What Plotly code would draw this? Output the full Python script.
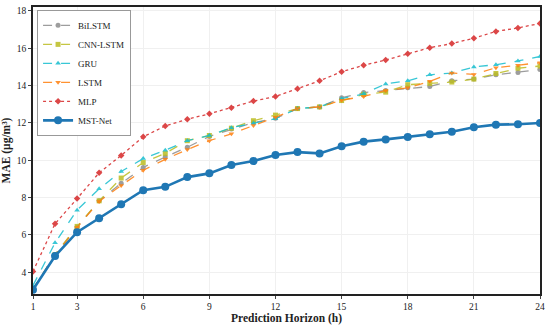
import plotly.graph_objects as go

horizon = list(range(1, 25))
bilstm = [3.1, 4.95, 6.42, 7.83, 8.77, 9.62, 10.18, 10.7, 11.28, 11.67, 12.02, 12.25, 12.77, 12.86, 13.35, 13.63, 13.74, 13.88, 13.95, 14.26, 14.35, 14.58, 14.7, 14.86]
cnn_lstm = [3.1, 4.95, 6.46, 7.83, 9.05, 9.88, 10.37, 11.05, 11.33, 11.72, 12.12, 12.42, 12.77, 12.86, 13.2, 13.53, 13.65, 14.05, 14.12, 14.19, 14.35, 14.65, 14.93, 15.05]
gru = [3.3, 5.58, 7.33, 8.47, 9.4, 10.09, 10.54, 11.05, 11.33, 11.75, 11.98, 12.23, 12.77, 12.86, 13.3, 13.56, 14.09, 14.26, 14.58, 14.67, 15.0, 15.12, 15.32, 15.56]
lstm = [3.1, 4.9, 6.4, 7.8, 8.65, 9.47, 10.05, 10.58, 11.05, 11.42, 11.86, 12.3, 12.77, 12.86, 13.22, 13.42, 13.74, 13.88, 14.23, 14.68, 14.6, 14.96, 15.09, 15.23]
mlp = [4.05, 6.6, 7.95, 9.33, 10.26, 11.26, 11.84, 12.2, 12.49, 12.82, 13.17, 13.42, 13.83, 14.26, 14.74, 15.09, 15.37, 15.7, 16.03, 16.25, 16.54, 16.9, 17.09, 17.33]
mst_net = [3.07, 4.87, 6.15, 6.9, 7.65, 8.4, 8.58, 9.1, 9.3, 9.75, 9.96, 10.28, 10.44, 10.37, 10.75, 11.0, 11.12, 11.25, 11.39, 11.53, 11.77, 11.91, 11.93, 12.0]

x_ticks = [1, 3, 6, 9, 12, 15, 18, 21, 24]
y_ticks = [4, 6, 8, 10, 12, 14, 16, 18]

series = [
    ("BiLSTM", bilstm, "#8c8c8c", "circle", "dash", 1.3, 5),
    ("CNN-LSTM", cnn_lstm, "#bcbd22", "square", "dash", 1.3, 5),
    ("GRU", gru, "#17becf", "triangle-up", "dash", 1.3, 5),
    ("LSTM", lstm, "#ff7f0e", "triangle-down", "dash", 1.3, 5),
    ("MLP", mlp, "#d62728", "diamond", "dot", 1.3, 5),
    ("MST-Net", mst_net, "#1f77b4", "circle", "solid", 2.6, 8),
]

fig = go.Figure()
for name, vals, color, sym, dash, lw, ms in series:
    fig.add_trace(go.Scatter(
        x=horizon, y=vals, name=name, mode="lines+markers",
        line=dict(color=color, width=lw, dash=dash),
        marker=dict(color=color, symbol=sym, size=ms),
        opacity=1.0 if name == "MST-Net" else 0.85,
    ))

font_family = "Liberation Serif, Times New Roman, serif"
fig.update_layout(
    width=550, height=327,
    margin=dict(l=31, r=7, t=5, b=30),
    paper_bgcolor="white", plot_bgcolor="white",
    font=dict(family=font_family, size=10, color="#222"),
    showlegend=True,
    legend=dict(
        x=0.008, y=0.99, xanchor="left", yanchor="top",
        bgcolor="rgba(255,255,255,0.95)", bordercolor="#999", borderwidth=1,
        font=dict(family=font_family, size=9, color="#222"),
        itemwidth=30, tracegroupgap=0,
    ),
    xaxis=dict(
        range=[1, 24], tickvals=x_ticks, ticks="outside", ticklen=3,
        showline=True, linecolor="#222", linewidth=1.5, mirror=True,
        showgrid=True, gridcolor="#f0f0f0", gridwidth=1, zeroline=False,
        tickfont=dict(size=9.5),
        title=dict(text="<b>Prediction Horizon (h)</b>", font=dict(size=11.5), standoff=2),
    ),
    yaxis=dict(
        range=[2.84, 18.21], tickvals=y_ticks, ticks="outside", ticklen=3,
        showline=True, linecolor="#222", linewidth=1.5, mirror=True,
        showgrid=True, gridcolor="#f0f0f0", gridwidth=1, zeroline=False,
        tickfont=dict(size=9.5),
        title=dict(text="<b>MAE (μg/m³)</b>", font=dict(size=11.5), standoff=4),
    ),
)

fig.write_html(
    "out.html",
    config={"displayModeBar": False},
    post_script="document.body.style.margin='0';document.body.style.overflow='hidden';",
)
